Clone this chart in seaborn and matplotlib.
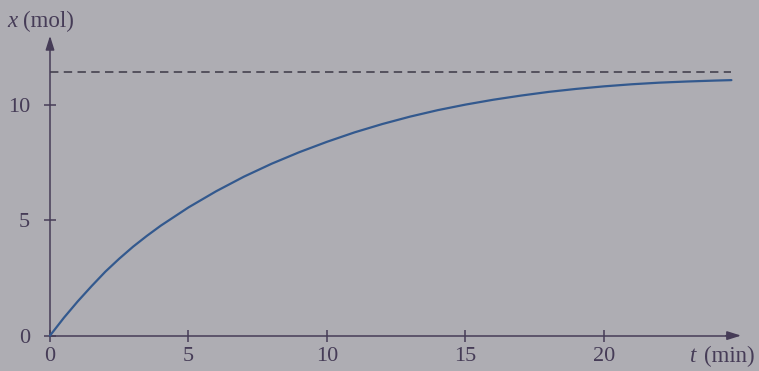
import numpy as np
import pandas as pd
import matplotlib.pyplot as plt
import seaborn as sns

# values
t_min = [0, 0.5, 1, 1.5, 2, 2.5, 3, 3.5, 4, 5, 6, 7, 8, 9, 10, 11, 12, 13, 14, 15, 16, 17, 18, 19,
         20, 21, 22, 23, 24, 24.6]
x_mol = [0, 0.77, 1.48, 2.14, 2.77, 3.33, 3.85, 4.32, 4.76, 5.55, 6.25, 6.88, 7.44, 7.94, 8.39,
         8.8, 9.16, 9.48, 9.76, 10.0, 10.21, 10.39, 10.55, 10.68, 10.79, 10.88, 10.95, 11.0,
         11.04, 11.06]
x_limit = 11.4
x_ticks = [0, 5, 10, 15, 20]
y_ticks = [0, 5, 10]

bg = "#aeadb3"
ink = "#463c57"
curve = "#33598e"

sns.set_theme(style="white")
plt.rcParams["font.family"] = ["Liberation Serif", "DejaVu Serif"]

df = pd.DataFrame({"t": t_min, "x": x_mol})

fig = plt.figure(figsize=(7.59, 3.71), dpi=100, facecolor=bg)
ax = fig.add_axes([0, 0, 1, 1])
ax.set_facecolor(bg)

sns.lineplot(data=df, x="t", y="x", ax=ax, color=curve, linewidth=1.6, zorder=3)
ax.plot([t_min[0], t_min[-1]], [x_limit, x_limit], color="#3c3846", linewidth=1.1,
        dashes=(5.5, 3.5))

# pixel mapping of the reference: t=0 at 50px, 27.7 px/unit; x=0 at 335.6px, 23.1 px/unit
ax.set_xlim(-50 / 27.7, (759 - 50) / 27.7)
ax.set_ylim((335.6 - 371) / 23.1, 335.6 / 23.1)

for s in ["top", "right"]:
    ax.spines[s].set_visible(False)
ax.spines["left"].set_position(("data", 0))
ax.spines["bottom"].set_position(("data", 0))
ax.spines["left"].set_bounds(0, 12.6)
ax.spines["bottom"].set_bounds(0, 24.5)
for s in ["left", "bottom"]:
    ax.spines[s].set_color(ink)
    ax.spines[s].set_linewidth(1.1)

ax.annotate("", xy=(25.05, 0), xytext=(24.3, 0),
            arrowprops=dict(arrowstyle="-|>,head_length=0.7,head_width=0.22", color=ink, lw=1.1))
ax.annotate("", xy=(0, 13.1), xytext=(0, 12.4),
            arrowprops=dict(arrowstyle="-|>,head_length=0.7,head_width=0.22", color=ink, lw=1.1))

ax.set_xticks(x_ticks)
ax.set_yticks(y_ticks)
ax.tick_params(axis="both", direction="inout", length=9, width=1.1, color=ink,
               labelcolor=ink, labelsize=16, bottom=True, left=True)
ax.tick_params(axis="y", pad=10)
ax.tick_params(axis="x", pad=4)
ax.set_xlabel("")
ax.set_ylabel("")

ax.text(-1.55, 13.58, "x", fontsize=16.5, color=ink, va="center", ha="left", style="italic")
ax.text(-0.97, 13.58, "(mol)", fontsize=16.5, color=ink, va="center", ha="left")
ax.text(23.1, -0.9, "t", fontsize=16.5, color=ink, va="center", ha="left", style="italic")
ax.text(23.62, -0.9, "(min)", fontsize=16.5, color=ink, va="center", ha="left")

fig.savefig("out.png", dpi=100, facecolor=bg)
